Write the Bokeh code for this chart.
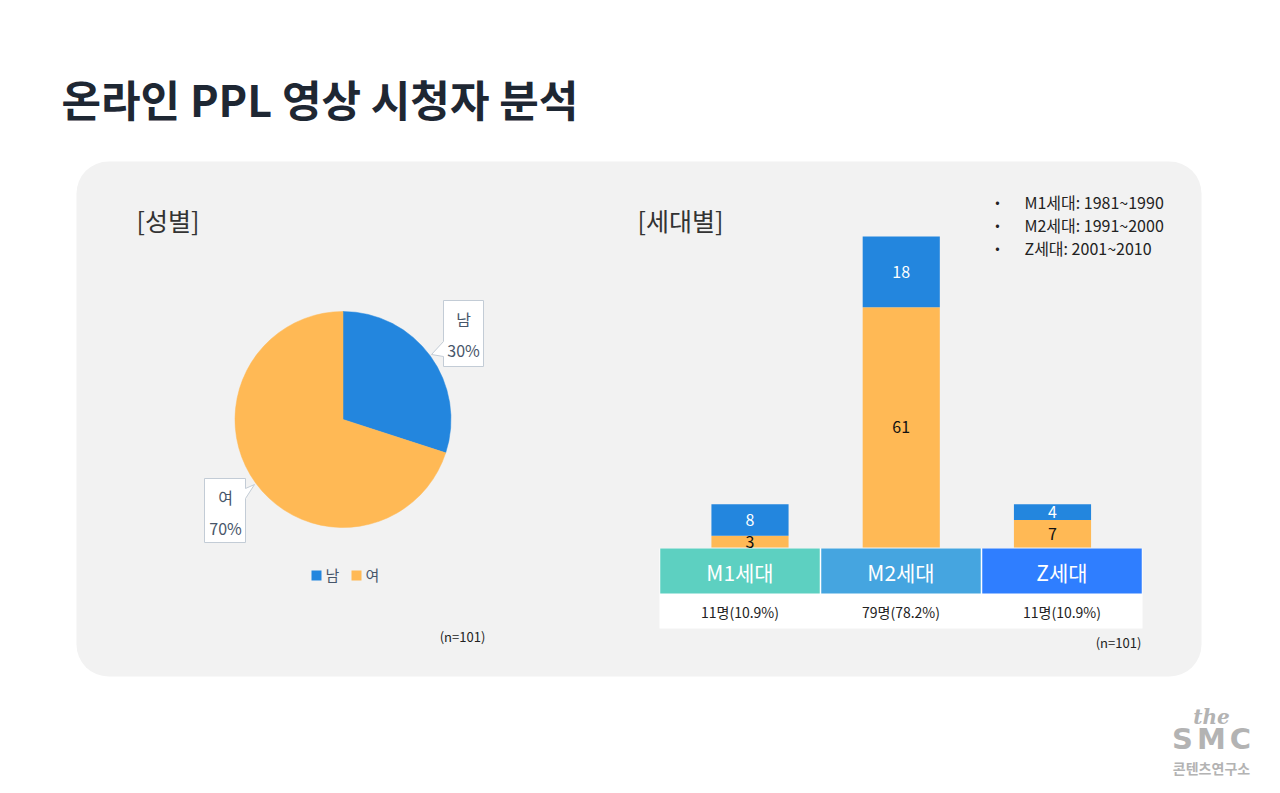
import numpy as np
from bokeh.plotting import figure
from bokeh.models import Range1d, BoxAnnotation, ColumnDataSource
from bokeh.core.properties import value
from bokeh.embed import file_html
from bokeh.resources import INLINE

# ---------------- data ----------------
title = "온라인 PPL 영상 시청자 분석"
gender_labels = ["남", "여"]
gender_pct = [30, 70]
generations = ["M1세대", "M2세대", "Z세대"]
gen_female = [3, 61, 7]
gen_male = [8, 18, 4]
gen_ranges = ["M1세대: 1981~1990", "M2세대: 1991~2000", "Z세대: 2001~2010"]
n_total = 101

# ---------------- style ----------------
KR = value("Noto Sans CJK KR")
BLUE = "#2386de"
ORANGE = "#ffb955"
HEAD_COLORS = ["#5dd0c1", "#45a5e0", "#2f7eff"]
PANEL = "#f2f2f2"
DARK = "#1e2733"
SLATE = "#47566a"

W, H = 1264, 777
OX, OY = 0, 0   # screen position of the plot frame
p = figure(width=W, height=H, x_range=Range1d(OX, OX + W), y_range=Range1d(-(OY + H), -OY),
           output_backend="svg", toolbar_location=None, x_axis_location=None,
           y_axis_location=None, min_border=0, outline_line_color=None,
           background_fill_color="white", border_fill_color="white")
p.grid.visible = False


def txt(x, y, t, size, color="#222222", align="left", style="normal", font=KR, **kw):
    p.text(x=[x], y=[-y], text=[t], text_font=font, text_font_size=value(size),
           text_color=color, text_align=align, text_baseline="middle",
           text_font_style=style, **kw)


# title
txt(61, 97, title, "43px", DARK, style="bold")

# panel
p.add_layout(BoxAnnotation(left=76, right=1201, top=-161, bottom=-676, fill_color=PANEL,
                           fill_alpha=1, line_color=None, border_radius=32, level="underlay"))

# section titles
txt(136, 219, "[성별]", "25px", "#333333")
txt(637, 219, "[세대별]", "25px", "#333333")

# ---------------- pie ----------------
cum = np.cumsum([0] + gender_pct)
starts = np.pi / 2 - 2 * np.pi * cum[:-1] / cum[-1]
ends = np.pi / 2 - 2 * np.pi * cum[1:] / cum[-1]
pie_src = ColumnDataSource(dict(start=starts, end=ends, color=[BLUE, ORANGE]))
p.wedge(x=342.5, y=-419, radius=108, start_angle="start", end_angle="end",
        direction="clock", fill_color="color", line_color="color", line_width=0.5,
        source=pie_src)

# callouts
box_line = "#c3ccd6"
p.patch(x=[443, 483, 483, 443, 443, 431, 443, 443],
        y=[-300, -300, -366, -366, -356, -354, -341, -300],
        fill_color="white", line_color=box_line, line_width=1)
p.patch(x=[204, 245, 245, 254, 245, 245, 204, 204],
        y=[-478, -478, -488, -484, -498, -542, -542, -478],
        fill_color="white", line_color=box_line, line_width=1)
txt(463, 318, gender_labels[0], "16px", SLATE, align="center")
txt(463, 349, f"{gender_pct[0]}%", "16px", SLATE, align="center")
txt(225, 496, gender_labels[1], "16px", SLATE, align="center")
txt(225, 527, f"{gender_pct[1]}%", "16px", SLATE, align="center")

# pie legend
p.scatter(x=[316, 356], y=[-575, -575], marker="square", size=10,
          fill_color=[BLUE, ORANGE], line_color=None)
txt(325, 574, gender_labels[0], "15px", SLATE)
txt(365, 574, gender_labels[1], "15px", SLATE)

txt(462, 636, f"(n={n_total})", "13px", "#222222", align="center")

# ---------------- stacked bars ----------------
totals = [f + m for f, m in zip(gen_female, gen_male)]
base_y, top_y = 547, 236              # screen pixels of 0 and of the max total
s = (base_y - top_y) / max(totals)
x0, dx = 749.5, 151.25                 # screen center of first bar, spacing
p.extra_x_ranges = {"gx": Range1d((OX - x0) / dx, (OX + W - x0) / dx)}
p.extra_y_ranges = {"gy": Range1d((base_y - (OY + H)) / s, (base_y - OY) / s)}

idx = np.arange(len(generations))
fem = np.array(gen_female)
mal = np.array(gen_male)
bsrc = ColumnDataSource(dict(x=idx, f_top=fem, m_top=fem + mal, zero=np.zeros(len(idx)),
                             f_mid=fem / 2, m_mid=fem + mal / 2,
                             f_lab=[str(v) for v in fem], m_lab=[str(v) for v in mal]))
p.vbar(x="x", bottom="zero", top="f_top", width=0.51, fill_color=ORANGE, line_color=None,
       source=bsrc, x_range_name="gx", y_range_name="gy")
p.vbar(x="x", bottom="f_top", top="m_top", width=0.51, fill_color=BLUE, line_color=None,
       source=bsrc, x_range_name="gx", y_range_name="gy")
p.text(x="x", y="f_mid", text="f_lab", source=bsrc, x_range_name="gx", y_range_name="gy",
       text_font=KR, text_font_size=value("16px"), text_color="#111111",
       text_align="center", text_baseline="middle")
p.text(x="x", y="m_mid", text="m_lab", source=bsrc, x_range_name="gx", y_range_name="gy",
       text_font=KR, text_font_size=value("16px"), text_color="white",
       text_align="center", text_baseline="middle")

# ---------------- table under bars ----------------
t_left, cell_w = 659, 161
cx = [t_left + cell_w * (i + 0.5) for i in range(len(generations))]
p.quad(left=t_left, right=t_left + cell_w * len(generations), top=-548, bottom=-628,
       fill_color="white", line_color=None)
p.rect(x=cx, y=-570.5, width=cell_w - 1.5, height=45, fill_color=HEAD_COLORS, line_color=None)
p.text(x=cx, y=[-571] * len(cx), text=generations, text_font=KR,
       text_font_size=value("21px"), text_color="white", text_align="center",
       text_baseline="middle")
row_lab = [f"{t}명({t / n_total * 100:.1f}%)" for t in totals]
p.text(x=cx, y=[-611] * len(cx), text=row_lab, text_font=KR,
       text_font_size=value("14px"), text_color="#222222", text_align="center",
       text_baseline="middle")
txt(1118, 642, f"(n={n_total})", "13px", "#222222", align="center")

# generation range notes
for i, t in enumerate(gen_ranges):
    y = 201 + 23 * i
    txt(997, y, "•", "13px", "#222222", align="center")
    txt(1024, y, t, "16px", "#222222")

# ---------------- logo ----------------
LOGO = "#b3b3b3"
txt(1211, 716, "the", "20px", LOGO, align="center", style="bold italic",
    font=value("DejaVu Serif"))
for ch, lx in zip("SMC", [1182, 1211, 1240]):
    txt(lx, 738, ch, "29px", LOGO, align="center", style="bold", font=value("DejaVu Sans"))
txt(1211, 767, "콘텐츠연구소", "14px", LOGO, align="center", style="bold")

open("out.html", "w").write(file_html(p, INLINE))
